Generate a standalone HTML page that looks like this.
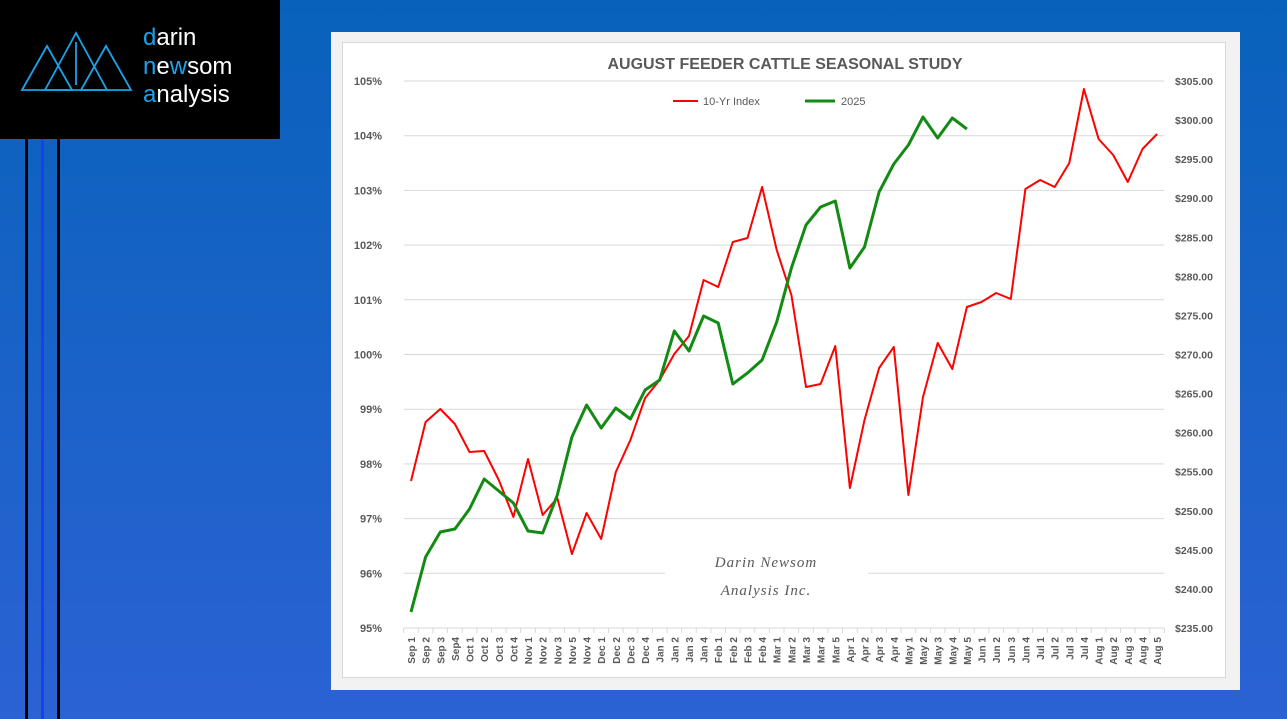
<!DOCTYPE html>
<html><head><meta charset="utf-8"><style>
body{margin:0;width:1287px;height:719px;overflow:hidden;background:linear-gradient(#0862bb,#2b62d4);font-family:"Liberation Sans",sans-serif;position:relative}
</style></head><body>
<div style="position:absolute;left:0;top:0;width:280px;height:139px;background:#000"></div>
<div style="position:absolute;left:25px;top:139px;width:3px;height:580px;background:#000"></div>
<div style="position:absolute;left:41px;top:139px;width:3px;height:580px;background:#1a3ff0"></div>
<div style="position:absolute;left:57px;top:139px;width:3px;height:580px;background:#000"></div>
<svg style="position:absolute;left:0;top:0" width="280" height="139">
<g fill="none" stroke="#1aa3ec" stroke-width="1.8">
<polygon points="22,90 47,46 72,90"/><polygon points="45,90 76,33 107,90"/><polygon points="81,90 106,46 131,90"/>
<line x1="76" y1="42" x2="76" y2="85"/>
</g>
<text x="143" y="45" font-size="24" fill="#fff"><tspan fill="#1aa3ec">d</tspan>arin</text>
<text x="143" y="74" font-size="24" fill="#fff"><tspan fill="#1aa3ec">n</tspan>e<tspan fill="#1aa3ec">w</tspan>som</text>
<text x="143" y="102" font-size="24" fill="#fff"><tspan fill="#1aa3ec">a</tspan>nalysis</text>
</svg>
<div style="position:absolute;left:331px;top:32px;width:909px;height:658px;background:#f2f2f2"></div>
<div style="position:absolute;left:342px;top:42px;width:884px;height:636px;background:#fff;border:1px solid #d9d9d9;box-sizing:border-box"></div>
<svg id="c" style="position:absolute;left:0;top:0" width="1287" height="719"></svg>
<script>
const s=document.getElementById('c');let h='';
const L=403.7,R=1164.4,st=(R-L)/52;
const y0=81,dy=54.7;
const lp=['105%','104%','103%','102%','101%','100%','99%','98%','97%','96%','95%'];
const rp=['$305.00','$300.00','$295.00','$290.00','$285.00','$280.00','$275.00','$270.00','$265.00','$260.00','$255.00','$250.00','$245.00','$240.00','$235.00'];
for(let k=0;k<=10;k++){const y=y0+k*dy;h+=`<line x1="${L}" x2="${R}" y1="${y}" y2="${y}" stroke="#d9d9d9"/>`;
h+=`<text x="382" y="${y+4}" font-size="11" font-weight="bold" fill="#595959" text-anchor="end">${lp[k]}</text>`;}
for(let k=0;k<15;k++){const y=y0+k*(dy*10/14);h+=`<text x="1175" y="${y+4}" font-size="10.5" font-weight="bold" fill="#595959">${rp[k]}</text>`;}
const lab=['Sep 1','Sep 2','Sep 3','Sep4','Oct 1','Oct 2','Oct 3','Oct 4','Nov 1','Nov 2','Nov 3','Nov 5','Nov 4','Dec 1','Dec 2','Dec 3','Dec 4','Jan 1','Jan 2','Jan 3','Jan 4','Feb 1','Feb 2','Feb 3','Feb 4','Mar 1','Mar 2','Mar 3','Mar 4','Mar 5','Apr 1','Apr 2','Apr 3','Apr 4','May 1','May 2','May 3','May 4','May 5','Jun 1','Jun 2','Jun 3','Jun 4','Jul 1','Jul 2','Jul 3','Jul 4','Aug 1','Aug 2','Aug 3','Aug 4','Aug 5'];
for(let i=0;i<=52;i++){const x=L+i*st;h+=`<line x1="${x}" x2="${x}" y1="628" y2="633" stroke="#d9d9d9"/>`;}
lab.forEach((t,i)=>{const x=L+(i+.5)*st;h+=`<text transform="translate(${x+4},637) rotate(-90)" font-size="10" font-weight="bold" fill="#595959" text-anchor="end">${t}</text>`;});
const red=[481,422,409,424,452,451,480,517,459,515,498,554,513,539,472,440,398,380,354,336,280,287,242,238,187,250,295,387,384,346,488,420,368,347,495,397,343,369,307,302,293,299,189,180,187,163,89,139,155,182,149,134];
const grn=[612,557,532,529,509,479,491,503,531,533,495,437,405,428,408,419,390,380,331,351,316,323,384,373,360,322,268,225,207,201,268,247,192,164,145,117,138,118,129];
h+=`<rect x="665" y="548" width="203" height="56" fill="#fff"/>`;
h+=`<text x="766" y="567" font-size="15" font-style="italic" fill="#595959" font-family="Liberation Serif,serif" text-anchor="middle" letter-spacing="1">Darin Newsom</text>`;
h+=`<text x="766" y="595" font-size="15" font-style="italic" fill="#595959" font-family="Liberation Serif,serif" text-anchor="middle" letter-spacing="1">Analysis Inc.</text>`;
const pl=(a,c)=>`<polyline fill="none" stroke="${c}" stroke-width="${c=='#ff0000'?2:3}" stroke-linejoin="round" points="${a.map((y,i)=>(L+(i+.5)*st).toFixed(1)+','+y).join(' ')}"/>`;
h+=pl(red,'#ff0000')+pl(grn,'#138a13');
h+=`<text x="785" y="69" font-size="16" font-weight="bold" fill="#595959" text-anchor="middle">AUGUST FEEDER CATTLE SEASONAL STUDY</text>`;
h+=`<line x1="673" x2="698" y1="101" y2="101" stroke="#f00" stroke-width="2"/><text x="703" y="105" font-size="11" fill="#595959">10-Yr Index</text>`;
h+=`<line x1="805" x2="835" y1="101" y2="101" stroke="#138a13" stroke-width="3"/><text x="841" y="105" font-size="11" fill="#595959">2025</text>`;
s.innerHTML=h;
</script>
</body></html>
